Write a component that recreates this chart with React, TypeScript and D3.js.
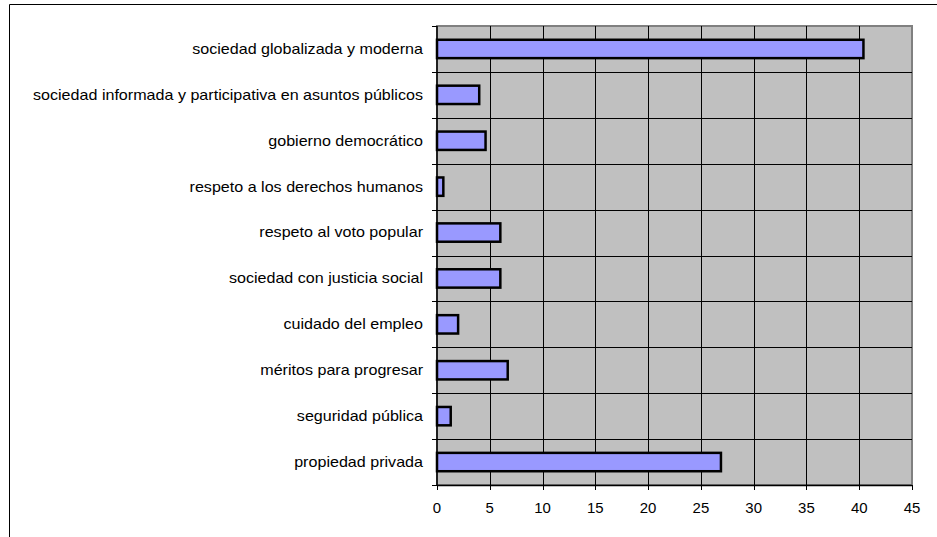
import React from "react";
import * as d3 from "d3";

const categories = [
  "sociedad globalizada y moderna",
  "sociedad informada y participativa en asuntos públicos",
  "gobierno democrático",
  "respeto a los derechos humanos",
  "respeto al voto popular",
  "sociedad con justicia social",
  "cuidado del empleo",
  "méritos para progresar",
  "seguridad pública",
  "propiedad privada",
];
const values = [40.4, 4.0, 4.6, 0.6, 6.0, 6.0, 2.0, 6.7, 1.3, 26.9];
const xTicks = [0, 5, 10, 15, 20, 25, 30, 35, 40, 45];

const W = 937;
const H = 537;
const plot = { left: 437, right: 912, top: 26, bottom: 485 };
const FONT = "Arial, 'Liberation Sans', sans-serif";

export default function App() {
  const x = d3.scaleLinear().domain([0, 45]).range([plot.left, plot.right]);
  const y = d3
    .scaleBand<string>()
    .domain(categories)
    .range([plot.top, plot.bottom])
    .paddingInner(0.6)
    .paddingOuter(0.3);
  const band = (plot.bottom - plot.top) / categories.length;
  const boundaries = d3.range(categories.length + 1).map((i) => plot.top + i * band);

  return (
    <svg
      width={W}
      height={H}
      style={{ position: "absolute", left: 0, top: 0, display: "block" }}
    >
      <rect x={0} y={0} width={W} height={H} fill="#ffffff" />
      {/* outer chart frame */}
      <path d={`M9.5,${H} V4.5 H${W}`} fill="none" stroke="#000" strokeWidth={1} />

      {/* plot background */}
      <rect
        x={plot.left}
        y={plot.top}
        width={plot.right - plot.left}
        height={plot.bottom - plot.top}
        fill="#c0c0c0"
        stroke="#808080"
        strokeWidth={2}
      />

      {/* vertical gridlines */}
      {xTicks.slice(1, -1).map((t) => (
        <line
          key={"v" + t}
          x1={Math.round(x(t)) + 0.5}
          x2={Math.round(x(t)) + 0.5}
          y1={plot.top}
          y2={plot.bottom}
          stroke="#000"
          strokeWidth={1}
        />
      ))}
      {/* horizontal gridlines at category boundaries */}
      {boundaries.slice(1, -1).map((b, i) => (
        <line
          key={"h" + i}
          x1={plot.left}
          x2={plot.right}
          y1={Math.round(b) + 0.5}
          y2={Math.round(b) + 0.5}
          stroke="#000"
          strokeWidth={1}
        />
      ))}

      {/* bars */}
      {categories.map((c, i) => (
        <rect
          key={c}
          x={x(0)}
          y={y(c)!}
          width={x(values[i]) - x(0)}
          height={y.bandwidth()}
          fill="#9999ff"
          stroke="#000"
          strokeWidth={2.5}
        />
      ))}

      {/* category axis */}
      <line x1={plot.left} x2={plot.left} y1={plot.top} y2={plot.bottom} stroke="#000" strokeWidth={1.5} />
      {boundaries.map((b, i) => (
        <line
          key={"yt" + i}
          x1={plot.left - 5}
          x2={plot.left}
          y1={Math.round(b) + 0.5}
          y2={Math.round(b) + 0.5}
          stroke="#000"
          strokeWidth={1}
        />
      ))}
      {categories.map((c) => (
        <text
          key={"l" + c}
          transform={`translate(${plot.left - 14},${y(c)! + y.bandwidth() / 2}) scale(1.15,1)`}
          dy="0.35em"
          textAnchor="end"
          fontFamily={FONT}
          fontSize={14}
          fill="#000"
        >
          {c}
        </text>
      ))}

      {/* value axis */}
      <line x1={plot.left} x2={plot.right} y1={plot.bottom + 0.5} y2={plot.bottom + 0.5} stroke="#000" strokeWidth={1.5} />
      {xTicks.map((t) => (
        <g key={"xt" + t}>
          <line
            x1={Math.round(x(t)) + 0.5}
            x2={Math.round(x(t)) + 0.5}
            y1={plot.bottom}
            y2={plot.bottom + 5}
            stroke="#000"
            strokeWidth={1}
          />
          <text
            transform={`translate(${x(t)},${plot.bottom + 28}) scale(1.07,1)`}
            textAnchor="middle"
            fontFamily={FONT}
            fontSize={14}
            fill="#000"
          >
            {t}
          </text>
        </g>
      ))}
    </svg>
  );
}
